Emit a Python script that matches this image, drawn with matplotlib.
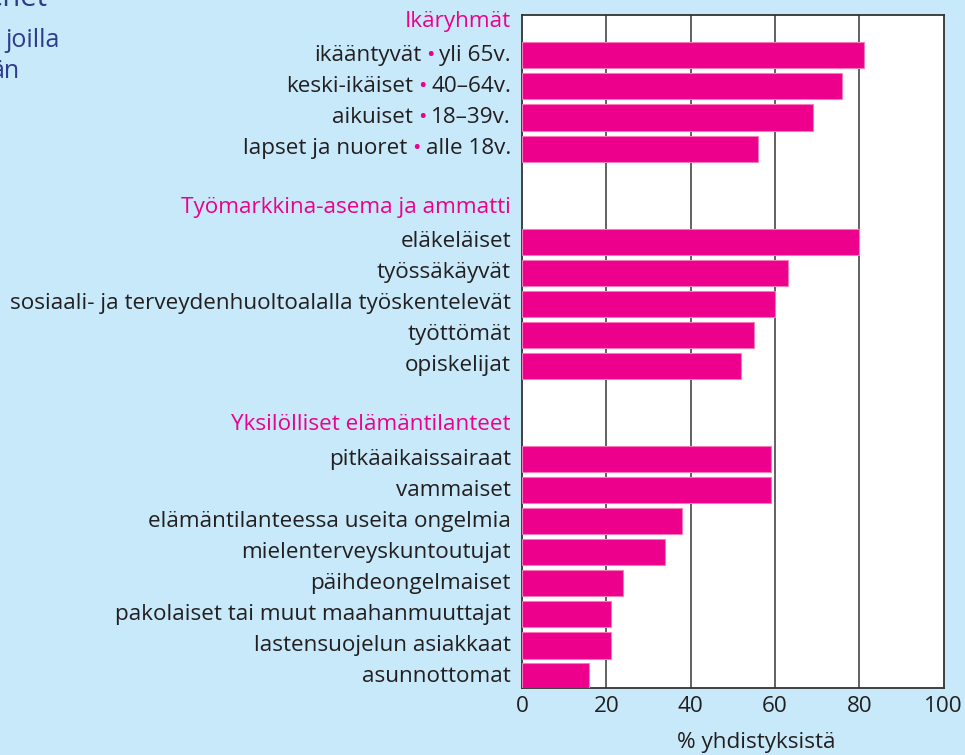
import matplotlib
matplotlib.use("Agg")
import matplotlib.pyplot as plt
import numpy as np

plt.rcParams['font.family'] = ['Open Sans', 'DejaVu Sans']

# data
group_titles = ["Ikäryhmät", "Työmarkkina-asema ja ammatti", "Yksilölliset elämäntilanteet"]

age_labels = [("ikääntyvät", "yli 65v."),
              ("keski-ikäiset", "40–64v."),
              ("aikuiset", "18–39v."),
              ("lapset ja nuoret", "alle 18v.")]
age_values = [81, 76, 69, 56]

work_labels = ["eläkeläiset", "työssäkäyvät",
               "sosiaali- ja terveydenhuoltoalalla työskentelevät",
               "työttömät", "opiskelijat"]
work_values = [80, 63, 60, 55, 52]

life_labels = ["pitkäaikaissairaat", "vammaiset",
               "elämäntilanteessa useita ongelmia",
               "mielenterveyskuntoutujat", "päihdeongelmaiset",
               "pakolaiset tai muut maahanmuuttajat",
               "lastensuojelun asiakkaat", "asunnottomat"]
life_values = [59, 59, 38, 34, 24, 21, 21, 16]

x_ticks = [0, 20, 40, 60, 80, 100]
x_label = "% yhdistyksistä"

pink = "#ec008c"
dark = "#231f20"
blue = "#2e3b8f"
bg = "#c7e9f9"
fs = 16.2

groups = [(age_labels, age_values), (work_labels, work_values), (life_labels, life_values)]

fig = plt.figure(figsize=(9.65, 7.55), dpi=100, facecolor=bg)
ax = fig.add_axes([522 / 965, 1 - 687.7 / 755, 421.7 / 965, (687.7 - 14.7) / 755])
ax.set_facecolor("white")

# slot positions: header, items, blank row
pos = 0
header_pos = []
item_pos = []
item_vals = []
item_labels = []
for labels, vals in groups:
    header_pos.append(pos)
    pos += 1
    for lab, v in zip(labels, vals):
        item_pos.append(pos)
        item_vals.append(v)
        item_labels.append(lab)
        pos += 1
    pos += 1

ax.barh(item_pos, item_vals, height=0.84, color=pink, edgecolor="#f47ab8",
        linewidth=0.8, zorder=3)

ax.set_xlim(0, 100)
ax.set_ylim(21.36, -0.31)
ax.set_xticks(x_ticks)
ax.set_xticklabels([str(t) for t in x_ticks], fontsize=fs, color=dark)
ax.tick_params(axis='x', length=0, pad=6)
ax.set_yticks([])
for t in x_ticks[1:-1]:
    ax.axvline(t, color="#555555", lw=1.3, zorder=1)
for s in ax.spines.values():
    s.set_color("#333333")
    s.set_linewidth(1.3)

ax.set_xlabel(x_label, fontsize=fs, color=dark)
ax.xaxis.set_label_coords(0.555, -0.066)

# row labels
trans = ("axes fraction", "data")
for p, title in zip(header_pos, group_titles):
    ax.annotate(title, xy=(0, p - 0.1), xycoords=trans, xytext=(-8, 0),
                textcoords="offset points", ha="right", va="center",
                fontsize=fs, color=pink)

for p, lab in zip(item_pos, item_labels):
    if isinstance(lab, tuple):
        t1 = ax.annotate(lab[1], xy=(0, p), xycoords=trans, xytext=(-8, 0),
                         textcoords="offset points", ha="right", va="center",
                         fontsize=fs, color=dark)
        t2 = ax.annotate("•", xy=(0, 0), xycoords=t1, xytext=(-3.5, 0),
                         textcoords="offset points", ha="right", va="bottom",
                         fontsize=fs, color=pink)
        ax.annotate(lab[0], xy=(0, 0), xycoords=t2, xytext=(-3.5, 0),
                    textcoords="offset points", ha="right", va="bottom",
                    fontsize=fs, color=dark)
    else:
        ax.annotate(lab, xy=(0, p), xycoords=trans, xytext=(-8, 0),
                    textcoords="offset points", ha="right", va="center",
                    fontsize=fs, color=dark)

# cropped text from the page at top left
fig.text(47 / 965, 1 - 6 / 755, "ehet", fontsize=21, color=blue, ha="right", va="baseline")
fig.text(60 / 965, 1 - 46.7 / 755, "joilla", fontsize=18, color=blue, ha="right", va="baseline")
fig.text(20 / 965, 1 - 78 / 755, "än", fontsize=18, color=blue, ha="right", va="baseline")

fig.savefig("out.png", dpi=100, facecolor=bg)
